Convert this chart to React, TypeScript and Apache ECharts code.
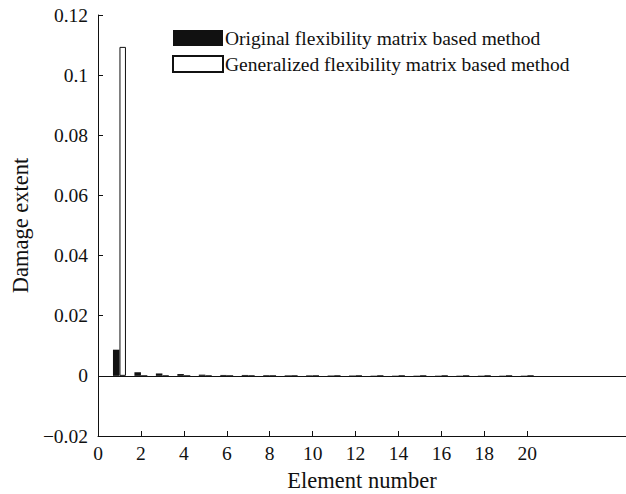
import React, { useEffect, useRef } from "react";
import * as echarts from "echarts";

const elements = [1, 2, 3, 4, 5, 6, 7, 8, 9, 10, 11, 12, 13, 14, 15, 16, 17, 18, 19, 20];
const originalValues = [0.0087, 0.0012, 0.0008, 0.0006, 0.0004, 0.0003, 0.0003, 0.00025, 0.0002, 0.0002, 0.00015, 0.00015, 0.0001, 0.0001, 0.0001, 0.0001, 0.0001, 0.0001, 0.0001, 0.0001];
const generalizedValues = [0.1094, -0.0001, -0.0001, -0.0001, -0.0001, -0.0001, -0.0001, -0.0001, -0.0001, -0.0001, -0.0001, -0.0001, -0.0001, -0.0001, -0.0001, -0.0001, -0.0001, -0.0001, -0.0001, -0.0001];
const xTickLabels = [0, 2, 4, 6, 8, 10, 12, 14, 16, 18, 20];
const xTicks = [2, 4, 6, 8, 10, 12, 14, 16, 18, 20];

const FONT = "Liberation Serif";

export default function App() {
  const ref = useRef<HTMLDivElement>(null);
  useEffect(() => {
    if (!ref.current) return;
    const chart = echarts.init(ref.current, null, { renderer: "svg" });
    chart.setOption({
      animation: false,
      textStyle: { fontFamily: FONT, color: "#111" },
      grid: { left: 98, right: 0, top: 15, bottom: 58, outerBoundsMode: "none", containLabel: false },
      legend: {
        orient: "vertical",
        left: 172,
        top: 28,
        padding: 0,
        icon: "rect",
        itemWidth: 50,
        itemHeight: 16,
        itemGap: 6,
        textStyle: { fontFamily: FONT, fontSize: 19.5, color: "#111", padding: [0, 0, 0, -3] },
        data: ["Original flexibility matrix based method", "Generalized flexibility matrix based method"],
      },
      xAxis: {
        type: "value",
        min: 0,
        max: 24.6,
        name: "Element number",
        nameLocation: "middle",
        nameGap: 33,
        nameTextStyle: { fontFamily: FONT, fontSize: 22.5, color: "#111" },
        splitLine: { show: false },
        axisLine: { onZero: false, lineStyle: { color: "#111", width: 1 } },
        axisTick: { inside: true, length: 5, lineStyle: { color: "#111" }, customValues: xTicks },
        axisLabel: { fontFamily: FONT, fontSize: 19.5, color: "#111", margin: 7, customValues: xTickLabels },
      },
      yAxis: {
        type: "value",
        min: -0.02,
        max: 0.12,
        interval: 0.02,
        name: "Damage extent",
        nameLocation: "middle",
        nameGap: 66,
        nameTextStyle: { fontFamily: FONT, fontSize: 22.5, color: "#111" },
        splitLine: { show: false },
        axisLine: { show: true, onZero: false, lineStyle: { color: "#111", width: 1 } },
        axisTick: { show: true, inside: true, length: 5, lineStyle: { color: "#111" } },
        axisLabel: {
          fontFamily: FONT,
          fontSize: 19.5,
          color: "#111",
          margin: 10,
          formatter: (v: number) => String(+v.toFixed(2)).replace("-", "\u2212"),
        },
      },
      series: [
        {
          name: "Original flexibility matrix based method",
          type: "bar",
          barWidth: 6.5,
          barGap: "0%",
          itemStyle: { color: "#111" },
          data: elements.map((e, i) => [e, originalValues[i]]),
          markLine: {
            silent: true,
            symbol: "none",
            label: { show: false },
            lineStyle: { color: "#111", width: 1, type: "solid" },
            data: [{ yAxis: 0 }],
          },
        },
        {
          name: "Generalized flexibility matrix based method",
          type: "bar",
          barWidth: 6.5,
          barGap: "0%",
          itemStyle: { color: "#fff", borderColor: "#111", borderWidth: 1 },
          data: elements.map((e, i) => [e, generalizedValues[i]]),
        },
      ],
    });
    return () => chart.dispose();
  }, []);
  return (
    <div
      ref={ref}
      style={{ position: "fixed", left: 0, top: 0, width: 626, height: 494, background: "#fff" }}
    />
  );
}
